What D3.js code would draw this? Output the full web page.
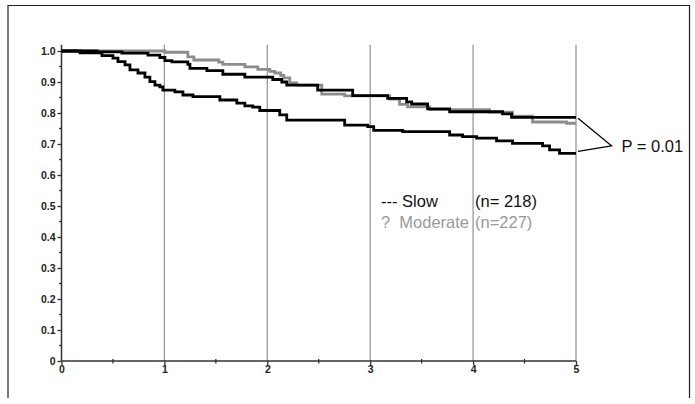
<!DOCTYPE html>
<html><head><meta charset="utf-8">
<script src="https://cdn.jsdelivr.net/npm/d3@7"></script>
<style>body{margin:0;background:#fff}svg{display:block}</style>
</head><body>
<svg id="c" width="695" height="404"></svg>
<script>
// Data (time in years, survival proportion)
const slowTimes   = [0,0.18,0.393,0.5,0.549,0.617,0.665,0.743,0.811,0.859,0.908,0.956,0.985,1.102,1.18,1.277,1.539,1.704,1.782,1.859,1.927,2.121,2.189,2.752,2.976,3.034,3.316,3.772,3.898,4.034,4.228,4.383,4.675,4.743,4.84,5];
const slowSurv    = [1,0.994,0.985,0.977,0.966,0.955,0.939,0.929,0.916,0.901,0.89,0.884,0.874,0.868,0.858,0.853,0.842,0.832,0.823,0.819,0.808,0.794,0.777,0.761,0.756,0.744,0.74,0.729,0.724,0.719,0.71,0.702,0.694,0.681,0.67,0.67];
const fastTimes   = [0,0.345,0.587,0.84,0.956,1.005,1.073,1.228,1.248,1.413,1.568,1.782,2.053,2.141,2.189,2.49,2.83,3.17,3.354,3.403,3.558,3.772,4.286,4.374,5];
const fastSurv    = [1,0.997,0.993,0.987,0.979,0.969,0.965,0.957,0.944,0.937,0.925,0.916,0.908,0.9,0.89,0.874,0.856,0.847,0.836,0.829,0.813,0.804,0.797,0.786,0.786];
const modTimes    = [0,1.005,1.228,1.286,1.529,1.568,1.782,1.908,2.025,2.073,2.131,2.16,2.218,2.286,2.529,2.752,3.189,3.286,3.364,3.578,4.16,4.383,4.578,4.908,5];
const modSurv     = [1,0.996,0.981,0.971,0.964,0.957,0.949,0.941,0.934,0.929,0.921,0.913,0.897,0.89,0.861,0.855,0.845,0.828,0.82,0.811,0.803,0.79,0.771,0.767,0.767];
const xTicks = [0,1,2,3,4,5];
const xTickLabels = ["0","1","2","3","4","5"];
const yTicks = [0,0.1,0.2,0.3,0.4,0.5,0.6,0.7,0.8,0.9,1.0];
const yTickLabels = ["0","0.1","0.2","0.3","0.4","0.5","0.6","0.7","0.8","0.9","1.0"];
const legendNames = ["--- Slow", "?  Moderate"];
const legendN = ["(n= 218)", "(n=227)"];
const pLabel = "P = 0.01";

const svg = d3.select("#c");
const x = d3.scaleLinear().domain([0,5]).range([61.5,576]);
const y = d3.scaleLinear().domain([0,1]).range([361,51]);

// frame
svg.append("path").attr("d","M8,398V5.5H689.5V398").attr("fill","none").attr("stroke","#222").attr("stroke-width",1.2);

// vertical gridlines
svg.selectAll("line.grid").data(xTicks.slice(1)).enter().append("line")
  .attr("x1",d=>x(d)).attr("x2",d=>x(d)).attr("y1",y(1.02)).attr("y2",y(0))
  .attr("stroke","#999").attr("stroke-width",1.3);

const tickFont = sel => sel.attr("font-family","Liberation Sans, Arial, sans-serif").attr("font-weight","bold").attr("font-size","10.5px").attr("fill","#222");

// y axis
const yAxis = d3.axisLeft(y).tickValues(yTicks).tickFormat((d,i)=>yTickLabels[i]).tickSize(4).tickPadding(2);
const gy = svg.append("g").attr("transform",`translate(${x(0)},0)`).call(yAxis);
gy.select(".domain").remove();
gy.append("line").attr("x1",0).attr("x2",0).attr("y1",y(1.02)).attr("y2",y(0)).attr("stroke","#333").attr("stroke-width",1.5);
gy.selectAll(".tick line").attr("stroke","#333").attr("stroke-width",1.3);
gy.selectAll("text").call(tickFont);
// minor y ticks
svg.selectAll("line.ymin").data(d3.range(0.05,1.0,0.1)).enter().append("line")
  .attr("x1",x(0)-2.5).attr("x2",x(0)).attr("y1",d=>y(d)).attr("y2",d=>y(d)).attr("stroke","#333").attr("stroke-width",1.3);

// x axis
const xAxis = d3.axisBottom(x).tickValues(xTicks).tickFormat((d,i)=>xTickLabels[i]).tickSize(4).tickPadding(1);
const gx = svg.append("g").attr("transform",`translate(0,${y(0)})`).call(xAxis);
gx.select(".domain").remove();
gx.append("line").attr("x1",x(0)).attr("x2",x(5)).attr("y1",0).attr("y2",0).attr("stroke","#333").attr("stroke-width",1.5);
gx.selectAll(".tick line").attr("stroke","#333").attr("stroke-width",1.3);
gx.selectAll("text").call(tickFont);
svg.selectAll("line.xmin").data(d3.range(0.5,5,1)).enter().append("line")
  .attr("x1",d=>x(d)).attr("x2",d=>x(d)).attr("y1",y(0)-2).attr("y2",y(0)+2.5).attr("stroke","#333").attr("stroke-width",1.3);

// curves
const line = d3.line().x(d=>x(d[0])).y(d=>y(d[1])).curve(d3.curveStepAfter);
const series = [
  {t:modTimes, s:modSurv, color:"#8c8c8c"},
  {t:fastTimes, s:fastSurv, color:"#000"},
  {t:slowTimes, s:slowSurv, color:"#000"}
];
series.forEach(se=>{
  svg.append("path").datum(se.t.map((t,i)=>[t,se.s[i]]))
    .attr("d",line).attr("fill","none").attr("stroke",se.color).attr("stroke-width",2.8);
});

// P bracket
const vx = 5.345, vy = 0.694;
svg.append("path")
  .attr("d",`M${x(5)+2},${y(fastSurv[fastSurv.length-1])+1}L${x(vx)},${y(vy)}L${x(5)+2},${y(slowSurv[slowSurv.length-1])-2}`)
  .attr("fill","none").attr("stroke","#000").attr("stroke-width",1.3);
svg.append("text").attr("x",x(vx)+10).attr("y",y(vy)+6).text(pLabel)
  .attr("font-family","Liberation Sans, Arial, sans-serif").attr("font-size","16.5px").attr("fill","#111");

// legend
const lg = svg.append("g").attr("font-family","Liberation Sans, Arial, sans-serif").attr("font-size","16.5px");
const legColors = ["#111","#999"];
legendNames.forEach((n,i)=>{
  lg.append("text").attr("x",381).attr("y",206.5+i*21.5).attr("fill",legColors[i]).text(n).style("white-space","pre");
  lg.append("text").attr("x",475).attr("y",206.5+i*21.5).attr("fill",legColors[i]).text(legendN[i]);
});
</script>
</body></html>
